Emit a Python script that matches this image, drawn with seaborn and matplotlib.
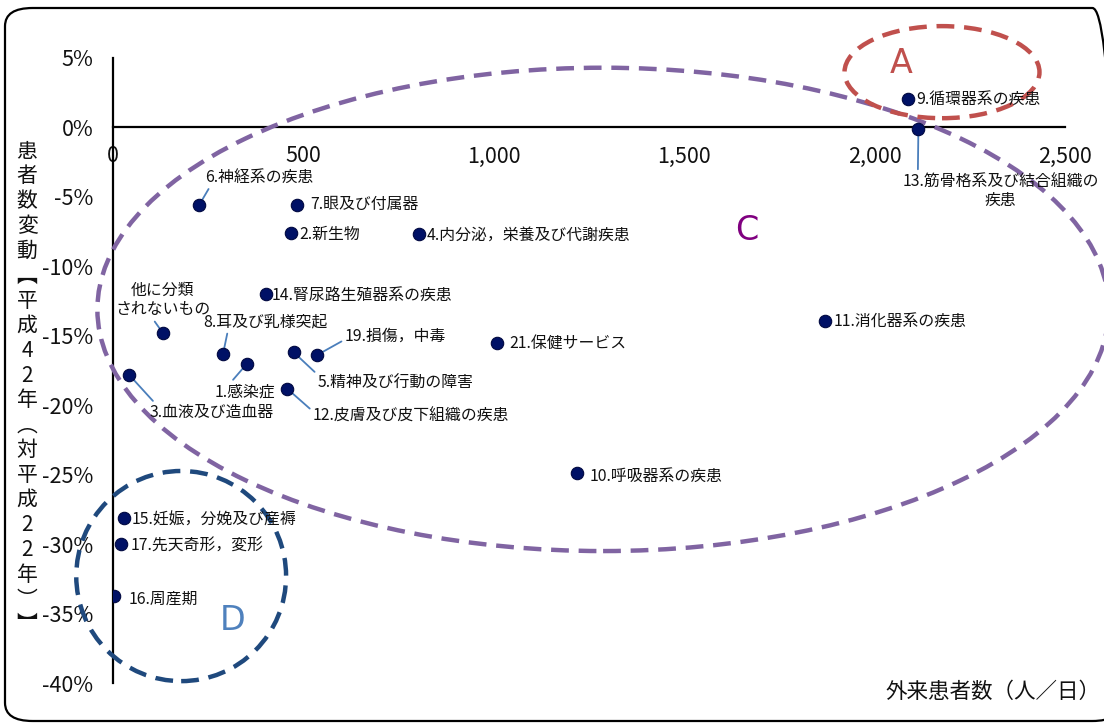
import matplotlib
matplotlib.use("Agg")
import matplotlib.pyplot as plt
from matplotlib.patches import Ellipse, FancyBboxPatch
from matplotlib.ticker import FuncFormatter, MultipleLocator
import seaborn as sns
import pandas as pd

# 傷病分類別の外来患者数と患者数変動
categories = [
    "1.感染症", "2.新生物", "3.血液及び造血器", "4.内分泌，栄養及び代謝疾患",
    "5.精神及び行動の障害", "6.神経系の疾患", "7.眼及び付属器", "8.耳及び乳様突起",
    "9.循環器系の疾患", "10.呼吸器系の疾患", "11.消化器系の疾患",
    "12.皮膚及び皮下組織の疾患", "13.筋骨格系及び結合組織の\n疾患",
    "14.腎尿路生殖器系の疾患", "15.妊娠，分娩及び産褥", "16.周産期",
    "17.先天奇形，変形", "19.損傷，中毒", "21.保健サービス", "他に分類\nされないもの",
]
outpatients = [352, 467, 42, 803, 475, 226, 483, 289, 2089, 1218, 1871,
               457, 2115, 402, 29, 3, 21, 535, 1008, 131]
change_pct = [-17.0, -7.6, -17.8, -7.7, -16.2, -5.6, -5.6, -16.3, 2.05, -24.9,
              -13.9, -18.8, -0.1, -12.0, -28.1, -33.7, -30.0, -16.4, -15.5, -14.8]

x_ticks = [0, 500, 1000, 1500, 2000, 2500]
y_ticks = [5, 0, -5, -10, -15, -20, -25, -30, -35, -40]

df = pd.DataFrame({"category": categories, "outpatients": outpatients,
                   "change": change_pct})

sns.set_style("white")
plt.rcParams["font.family"] = ["Noto Sans CJK JP", "DejaVu Sans"]

W, H = 1104, 726
fig = plt.figure(figsize=(W / 100, H / 100), dpi=100)
ax = fig.add_axes([113 / W, 1 - 683 / H, (1065 - 113) / W, (683 - 58) / H])

sns.scatterplot(data=df, x="outpatients", y="change", ax=ax, s=80,
                color="#001166", edgecolor="#000840", linewidth=0.8,
                zorder=5, legend=False)

ax.set_xlim(x_ticks[0], x_ticks[-1])
ax.set_ylim(min(y_ticks), max(y_ticks))
ax.xaxis.set_major_locator(MultipleLocator(500))
ax.yaxis.set_major_locator(MultipleLocator(5))
ax.xaxis.set_major_formatter(FuncFormatter(lambda v, p: f"{int(v):,}"))
ax.yaxis.set_major_formatter(FuncFormatter(lambda v, p: f"{int(round(v))}%"))

for s in ["top", "right"]:
    ax.spines[s].set_visible(False)
ax.spines["bottom"].set_position(("data", 0))
for s in ["left", "bottom"]:
    ax.spines[s].set_linewidth(1.6)
    ax.spines[s].set_color("black")
ax.tick_params(axis="both", direction="in", length=5, width=1.5, color="black",
               labelsize=15.5, labelcolor="#111111")
ax.tick_params(axis="x", pad=13)
ax.tick_params(axis="y", pad=14)
ax.set_xlabel("")
ax.set_ylabel("")
ax.grid(False)

# label placement: (dx, dy) in pixels, ha, va, leader anchor on text box (or None)
label_layout = {
    "1.感染症": ((-32, -28), "left", "center", (0.25, 1.0)),
    "2.新生物": ((8, -1), "left", "center", None),
    "3.血液及び造血器": ((21, -38), "left", "center", (0.06, 0.9)),
    "4.内分泌，栄養及び代謝疾患": ((8, -1), "left", "center", None),
    "5.精神及び行動の障害": ((24, -31), "left", "center", (0.0, 1.0)),
    "6.神経系の疾患": ((6, 28), "left", "center", (0.05, 0.0)),
    "7.眼及び付属器": ((13, 1), "left", "center", None),
    "8.耳及び乳様突起": ((-20, 32), "left", "center", (0.2, 0.0)),
    "9.循環器系の疾患": ((8, 0), "left", "center", None),
    "10.呼吸器系の疾患": ((13, -3), "left", "center", None),
    "11.消化器系の疾患": ((8, -1), "left", "center", None),
    "12.皮膚及び皮下組織の疾患": ((26, -28), "left", "center", (0.0, 0.8)),
    "13.筋骨格系及び結合組織の\n疾患": ((82, -62), "center", "center", (0.08, 1.0)),
    "14.腎尿路生殖器系の疾患": ((6, -1), "left", "center", None),
    "15.妊娠，分娩及び産褥": ((8, -2), "left", "center", None),
    "16.周産期": ((14, -4), "left", "center", None),
    "17.先天奇形，変形": ((10, -2), "left", "center", None),
    "19.損傷，中毒": ((28, 19), "left", "center", (0.0, 0.3)),
    "21.保健サービス": ((12, -1), "left", "center", None),
    "他に分類\nされないもの": ((0, 33), "center", "center", (0.39, 0.0)),
}

for cat, xv, yv in zip(categories, outpatients, change_pct):
    (dx, dy), ha, va, rel = label_layout[cat]
    kw = {}
    if rel is not None:
        kw["arrowprops"] = dict(arrowstyle="-", color="#4A7EBB", lw=1.3,
                                shrinkA=0, shrinkB=0, relpos=rel)
    ax.annotate(cat, xy=(xv, yv), xytext=(dx, dy), textcoords="offset pixels",
                ha=ha, va=va, multialignment="center", fontsize=11.4,
                color="#111111", zorder=4, **kw)

# grouping rings with their letters
rings = [
    # (center, width, height, ring colour, letter, letter x, letter y, letter colour)
    ((1287, -13.1), 2656, 34.8, "#8064A2", "C", 1664, -7.4, "#800080"),
    ((2177, 3.98), 512, 6.63, "#C0504D", "A", 2071, 4.6, "#C0504D"),
    ((179, -32.3), 551, 15.13, "#1F497D", "D", 315, -35.5, "#4F81BD"),
]
for (cx, cy), w, h, col, letter, lx, ly, lcol in rings:
    ax.add_patch(Ellipse((cx, cy), w, h, fill=False, edgecolor=col,
                         lw=3.2, linestyle=(0, (4, 2.2)), clip_on=False,
                         zorder=3))
    ax.text(lx, ly, letter, color=lcol, fontsize=24, ha="center",
            va="center", family=["DejaVu Sans"], zorder=3)

# axis titles
fig.text(1100 / W, 1 - 692 / H, "外来患者数（人／日）", ha="right", va="center",
         fontsize=15.5, color="#111111")
ylabel_chars = "患者数変動︻平成42年︵対平成22年︶︼"
fig.text(27 / W, 1 - 388 / H, "\n".join(ylabel_chars), ha="center",
         va="center", fontsize=15, linespacing=1.17, color="#111111")

# rounded frame around the chart
frame = FancyBboxPatch((5 / W, 5 / H), (1120 - 5) / W, (718 - 5) / H,
                       boxstyle="round,pad=0,rounding_size=0.025",
                       transform=fig.transFigure, fill=False,
                       edgecolor="black", lw=1.6, clip_on=False)
fig.patches.append(frame)

fig.savefig("out.png", dpi=100)
